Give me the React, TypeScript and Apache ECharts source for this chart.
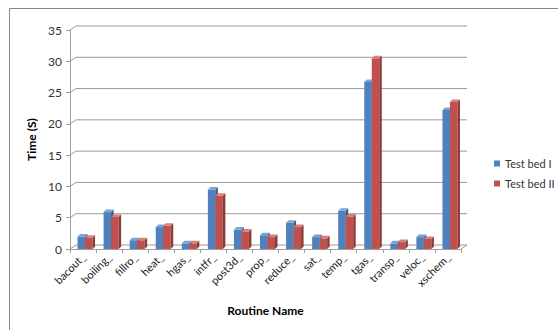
import React, { useEffect, useRef } from "react";
import * as echarts from "echarts";

const categories = ["bacout_", "boiling_", "fillro_", "heat_", "hgas_", "intfr_", "post3d_", "prop_", "reduce_", "sat_", "temp_", "tgas_", "transp_", "veloc_", "xschem_"];
const testBed1 = [2.0, 5.9, 1.4, 3.5, 0.9, 9.5, 3.1, 2.2, 4.2, 1.9, 6.1, 26.7, 0.9, 1.9, 22.2];
const testBed2 = [1.8, 5.1, 1.4, 3.7, 0.9, 8.5, 2.8, 1.9, 3.5, 1.7, 5.2, 30.5, 1.1, 1.6, 23.5];
const yTicks = [0, 5, 10, 15, 20, 25, 30, 35];
const seriesNames = ["Test bed I", "Test bed II"];

const FONT = "Lato, 'Open Sans', sans-serif";
const DEPTH_X = 6;
const DEPTH_Y = 4;
const BAR_W = 7.5;
const BAR_D = 2.5;

const palettes = [
  { front: "#4F81BD", side: "#385D8A", top: "#7FA3D0" },
  { front: "#C0504D", side: "#8E3A38", top: "#D4807D" },
];

function barRenderer(s: number) {
  return (params: any, api: any) => {
    const idx = api.value(0);
    const v = api.value(1);
    const c = api.coord([idx, v]);
    const b = api.coord([idx, 0]);
    const x0 = c[0] - 5.5 + s * 7.5;
    const top = c[1];
    const bot = b[1];
    const p = palettes[s];
    return {
      type: "group",
      children: [
        {
          type: "rect",
          shape: { x: x0, y: top, width: BAR_W, height: bot - top },
          style: { fill: p.front },
        },
        {
          type: "polygon",
          shape: {
            points: [
              [x0 + BAR_W, top],
              [x0 + BAR_W + BAR_D, top - BAR_D],
              [x0 + BAR_W + BAR_D, bot - BAR_D],
              [x0 + BAR_W, bot],
            ],
          },
          style: { fill: p.side },
        },
        {
          type: "polygon",
          shape: {
            points: [
              [x0, top],
              [x0 + BAR_D, top - BAR_D],
              [x0 + BAR_W + BAR_D, top - BAR_D],
              [x0 + BAR_W, top],
            ],
          },
          style: { fill: p.top },
        },
      ],
    };
  };
}

function wallRenderer(params: any, api: any) {
  const v = api.value(1);
  const c = api.coord([0, v]);
  const band = api.size([1, 0])[0];
  const left = c[0] - band / 2;
  const right = left + categories.length * band;
  const y = c[1];
  const children: any[] = [
    {
      type: "polyline",
      shape: { points: [[left, y], [left + DEPTH_X, y - DEPTH_Y], [right + DEPTH_X, y - DEPTH_Y]] },
      style: { stroke: "#9a9a9a", lineWidth: 1, fill: "none" },
    },
  ];
  if (v === 0) {
    children.push({
      type: "line",
      shape: { x1: right, y1: y, x2: right + DEPTH_X, y2: y - DEPTH_Y },
      style: { stroke: "#9a9a9a", lineWidth: 1 },
    });
  }
  return { type: "group", children };
}

export default function App() {
  const ref = useRef<HTMLDivElement>(null);
  useEffect(() => {
    if (!ref.current) return;
    const chart = echarts.init(ref.current, undefined, { renderer: "svg" });
    chart.setOption({
      animation: false,
      backgroundColor: "#ffffff",
      textStyle: { fontFamily: FONT },
      grid: { left: 70, right: 97, top: 30, bottom: 81 },
      legend: {
        orient: "vertical",
        left: 489,
        top: 153,
        itemWidth: 6,
        itemHeight: 6,
        itemGap: 9,
        icon: "rect",
        data: seriesNames,
        textStyle: { fontFamily: FONT, fontSize: 11, color: "#333" },
      },
      xAxis: {
        type: "category",
        data: categories,
        name: "Routine Name",
        nameLocation: "middle",
        nameGap: 55,
        nameTextStyle: { fontFamily: FONT, fontSize: 12, fontWeight: "bold", color: "#000" },
        axisLine: { lineStyle: { color: "#a0a0a0" } },
        axisTick: { show: true, length: 4, lineStyle: { color: "#a0a0a0" } },
        axisLabel: { rotate: 45, fontSize: 11, color: "#222", margin: 6, fontFamily: FONT },
      },
      yAxis: {
        type: "value",
        min: 0,
        max: 35,
        interval: 5,
        name: "Time (S)",
        nameLocation: "middle",
        nameGap: 31,
        nameRotate: 90,
        nameTextStyle: { fontFamily: FONT, fontSize: 12, fontWeight: "bold", color: "#000" },
        axisLine: { show: true, lineStyle: { color: "#a0a0a0" } },
        axisTick: { show: true, length: 4, lineStyle: { color: "#a0a0a0" } },
        axisLabel: { fontSize: 12, color: "#333", margin: 8, fontFamily: FONT },
        splitLine: { show: false },
      },
      graphic: [
        {
          type: "rect",
          shape: { x: 9.5, y: 8.5, width: 600, height: 400 },
          style: { stroke: "#868686", fill: "none", lineWidth: 1 },
          silent: true,
        },
      ],
      series: [
        {
          type: "custom",
          name: "walls",
          renderItem: wallRenderer,
          data: yTicks.map((v) => [0, v]),
          encode: { x: 0, y: 1 },
          silent: true,
          z: 1,
        },
        {
          type: "custom",
          name: seriesNames[0],
          renderItem: barRenderer(0),
          itemStyle: { color: palettes[0].front },
          data: testBed1.map((v, i) => [i, v]),
          encode: { x: 0, y: 1 },
          z: 2,
        },
        {
          type: "custom",
          name: seriesNames[1],
          renderItem: barRenderer(1),
          itemStyle: { color: palettes[1].front },
          data: testBed2.map((v, i) => [i, v]),
          encode: { x: 0, y: 1 },
          z: 3,
        },
      ],
    });
    return () => chart.dispose();
  }, []);
  return (
    <div
      ref={ref}
      style={{ position: "fixed", left: 0, top: 0, width: 558, height: 330 }}
    />
  );
}
